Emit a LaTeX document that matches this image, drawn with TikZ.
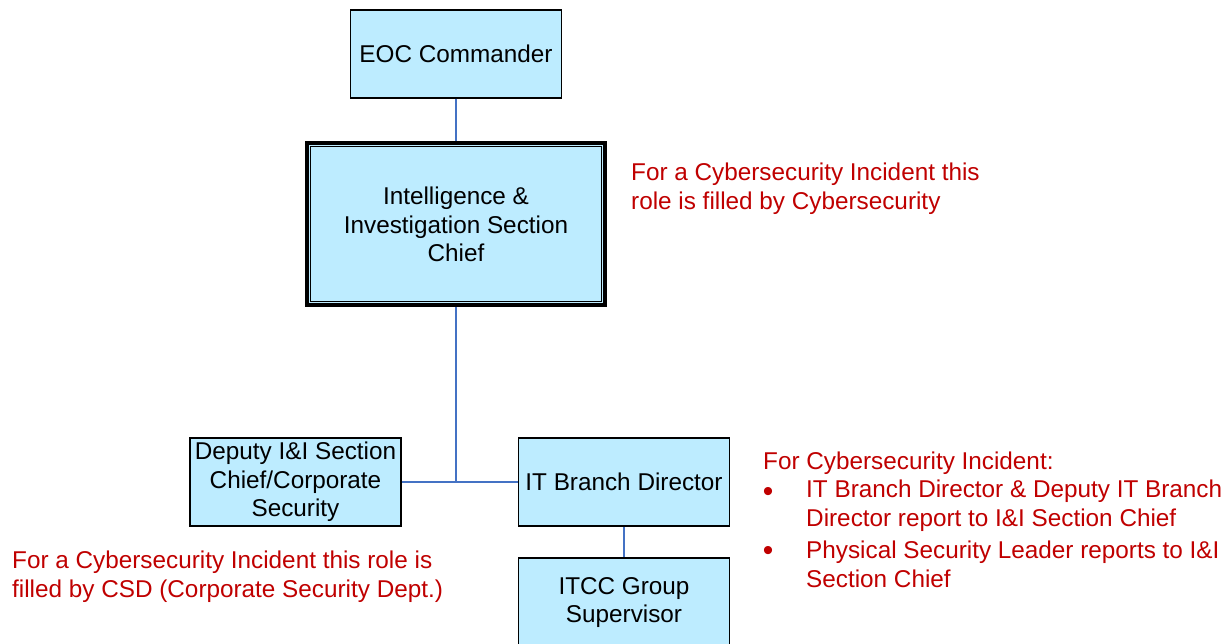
\documentclass[tikz,border=0pt]{standalone}
\usepackage{fontspec}
\setmainfont{Liberation Sans}
\definecolor{boxfill}{RGB}{189,236,255}
\definecolor{linkblue}{RGB}{68,114,196}
\definecolor{notered}{RGB}{192,0,0}
\begin{document}
\begin{tikzpicture}[x=1pt,y=-1pt,
  every node/.style={font=\fontsize{24.3}{28.5}\selectfont, inner sep=0pt},
  rolebox/.style={draw=black, line width=1.5pt, fill=boxfill, minimum width=211pt, minimum height=88pt, align=center},
  link/.style={draw=linkblue, line width=1.6pt},
  note/.style={text=notered, align=left, anchor=west},
  bullet/.style={text=notered, anchor=center, font=\fontsize{30}{30}\selectfont}]
\useasboundingbox[fill=white] (0,0) rectangle (1229,644);

\node[rolebox] (eoc) at (456,54) {EOC Commander};
\node[rolebox, line width=4pt, minimum width=298pt, minimum height=162pt] (ii) at (456,224) {};
\draw[line width=1.8pt] ([shift={(5.5,5.5)}]ii.north west) rectangle ([shift={(-5.5,-5.5)}]ii.south east);
\node[align=center] (iitext) at (456,224.5) {Intelligence \&\\Investigation Section\\Chief};

\node[rolebox] (dep) at (295.5,482) {Deputy I\&I Section\\Chief/Corporate\\Security};
\node[rolebox] (itb) at (624,482) {IT Branch Director};
\node[rolebox, minimum height=89pt] (itcc) at (624,602.5) {ITCC Group\\Supervisor};

\coordinate (j) at (456,482);
\draw[link] (eoc) -- (ii);
\draw[link] (ii) -- (j);
\draw[link] (dep) -- (itb);
\draw[link] (itb) -- (itcc);

\node[note] (n1) at (631,188.5) {For a Cybersecurity Incident this\\role is filled by Cybersecurity};
\node[note] (n2) at (12,576.5) {For a Cybersecurity Incident this role is\\filled by CSD (Corporate Security Dept.)};
\node[note] (n3) at (763,463) {For Cybersecurity Incident:};
\node[bullet] (b1) at (768,494.5) {•};
\node[note] (n4) at (806,505.5) {IT Branch Director \& Deputy IT Branch\\Director report to I\&I Section Chief};
\node[bullet] (b2) at (768,553.5) {•};
\node[note] (n5) at (806,564.5) {Physical Security Leader reports to I\&I\\Section Chief};
\end{tikzpicture}
\end{document}
